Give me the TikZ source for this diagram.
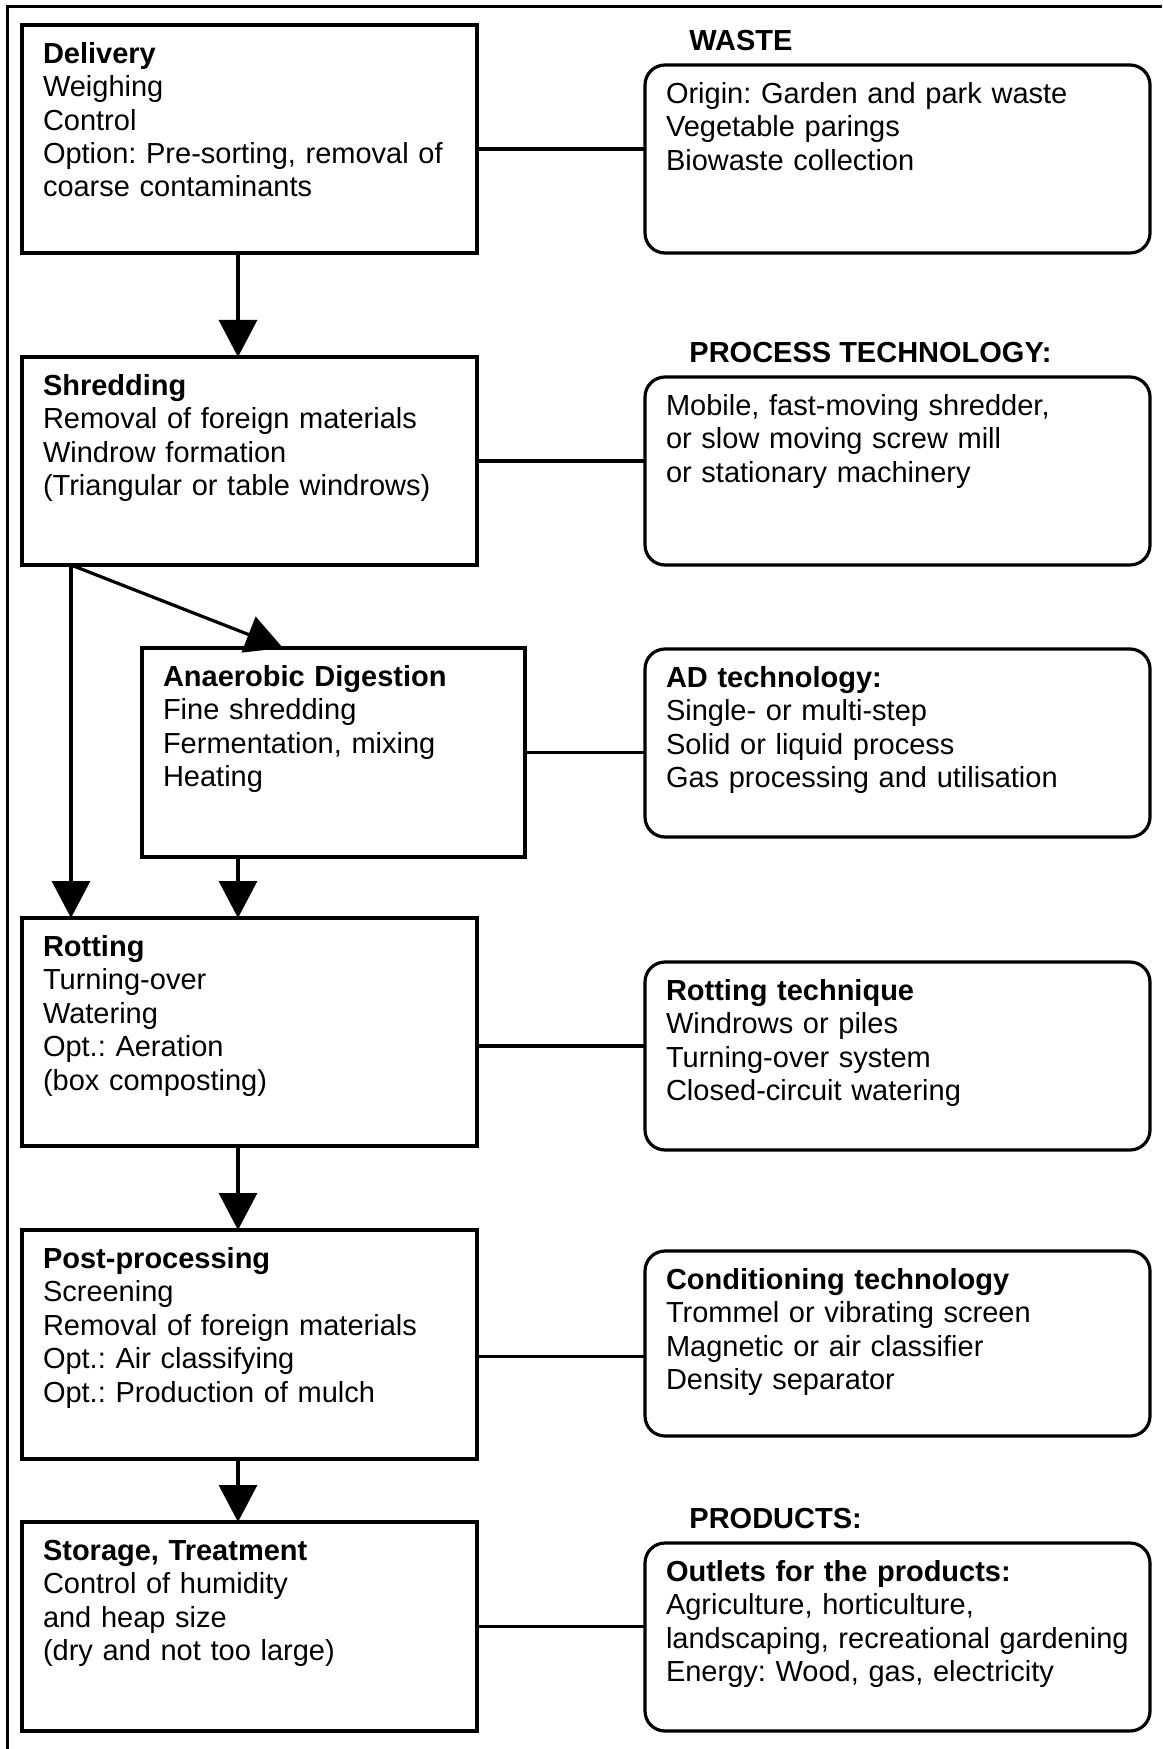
\documentclass[tikz,border=0pt]{standalone}
\usepackage{fontspec}
\setmainfont{Liberation Sans}
\usetikzlibrary{arrows.meta}
\frenchspacing

\begin{document}
\begin{tikzpicture}[
  x=0.5pt, y=-0.5pt,
  stage/.style={rectangle, draw=black, line width=1.6pt, anchor=north west,
                outer sep=0pt, align=left, text width=206.5pt,
                inner xsep=10.5pt, inner ysep=8.7pt, text height=10.5pt,
                font=\fontsize{14.5pt}{16.7pt}\selectfont},
  tech/.style={stage, rounded corners=10pt, text width=231.5pt, text depth=66.1pt},
  head/.style={anchor=west, inner sep=0pt,
               font=\fontsize{14.5pt}{16.7pt}\selectfont\bfseries},
  arr/.style={-{Triangle[length=18.5pt, width=19pt]}, line width=1.6pt},
  link/.style={line width=1.6pt},
]
\useasboundingbox (0,0) rectangle (1162,1749);

% Frame (only top and left edges are visible)
\draw[line width=1.5pt] (7,1749) -- (7,7) -- (1162,7);

% Process stages (left column)
\node[stage, text depth=86.1pt] (Delivery) at (22,25)
  {\textbf{Delivery}\\Weighing\\Control\\Option: Pre-sorting, removal of\\coarse contaminants};
\node[stage, text depth=76.1pt] (Shredding) at (22,357)
  {\textbf{Shredding}\\Removal of foreign materials\\Windrow formation\\(Triangular or table windrows)};
\node[stage, text width=170.5pt, text depth=76.6pt] (AD) at (142,648)
  {\textbf{Anaerobic Digestion}\\Fine shredding\\Fermentation, mixing\\Heating};
\node[stage, text depth=86.1pt] (Rotting) at (22,918)
  {\textbf{Rotting}\\Turning-over\\Watering\\Opt.: Aeration\\(box composting)};
\node[stage, text depth=86.6pt] (Post) at (22,1230)
  {\textbf{Post-processing}\\Screening\\Removal of foreign materials\\Opt.: Air classifying\\Opt.: Production of mulch};
\node[stage, text depth=76.6pt] (Storage) at (22,1522)
  {\textbf{Storage, Treatment}\\Control of humidity\\and heap size\\(dry and not too large)};

% Technology boxes (right column)
\node[head] (wasteHead) at (689,41) {WASTE};
\node[tech] (Waste) at (645,65)
  {Origin: Garden and park waste\\Vegetable parings\\Biowaste collection};
\node[head] (procHead) at (689,353) {PROCESS TECHNOLOGY:};
\node[tech] (Machinery) at (645,377)
  {Mobile, fast-moving shredder,\\or slow moving screw mill\\or stationary machinery};
\node[tech] (ADtech) at (645,649)
  {\textbf{AD technology:}\\Single- or multi-step\\Solid or liquid process\\Gas processing and utilisation};
\node[tech] (RotTech) at (645,962)
  {\textbf{Rotting technique}\\Windrows or piles\\Turning-over system\\Closed-circuit watering};
\node[tech, text depth=64.6pt] (Conditioning) at (645,1251)
  {\textbf{Conditioning technology}\\Trommel or vibrating screen\\Magnetic or air classifier\\Density separator};
\node[head] (prodHead) at (689,1518) {PRODUCTS:};
\node[tech] (Outlets) at (645,1543)
  {\textbf{Outlets for the products:}\\Agriculture, horticulture,\\landscaping, recreational gardening\\Energy: Wood, gas, electricity};

% Links to the technology boxes
\coordinate (dl) at ([yshift=-5pt]Delivery.east);
\coordinate (rl) at ([yshift=-7pt]Rotting.east);
\coordinate (pl) at ([yshift=-6pt]Post.east);
\draw[link] (dl) -- (dl -| Waste.west);
\draw[link] (Shredding.east) -- (Shredding.east -| Machinery.west);
\draw[link] (AD.east) -- (AD.east -| ADtech.west);
\draw[link] (rl) -- (rl -| RotTech.west);
\draw[link] (pl) -- (pl -| Conditioning.west);
\draw[link] (Storage.east) -- (Storage.east -| Outlets.west);

% Flow arrows
\coordinate (spine) at (238,0);
\coordinate (split) at ([xshift=24.5pt]Shredding.south west);
\draw[arr] (Delivery.south -| spine) -- (Shredding.north -| spine);
\draw[arr] (split) -- ([xshift=70.5pt]AD.north west);
\draw[arr] (split) -- (split |- Rotting.north);
\draw[arr] (AD.south -| spine) -- (Rotting.north -| spine);
\draw[arr] (Rotting.south -| spine) -- (Post.north -| spine);
\draw[arr] (Post.south -| spine) -- (Storage.north -| spine);

\end{tikzpicture}
\end{document}
